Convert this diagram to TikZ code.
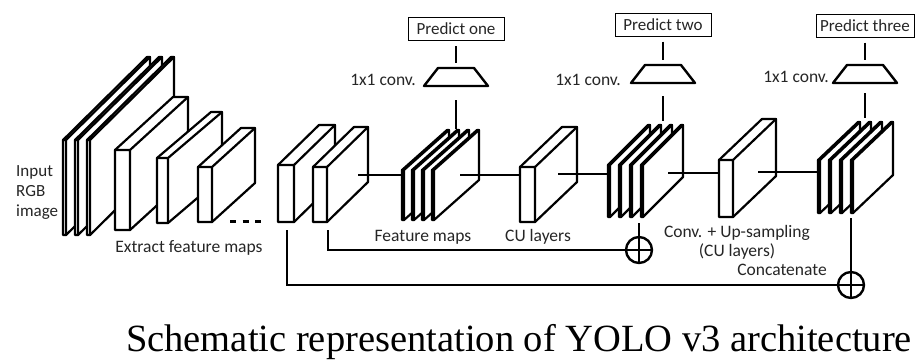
\documentclass[tikz,border=0pt]{standalone}
\usepackage{fontspec}
\setmainfont{Carlito}
\newfontfamily\capfont{Liberation Serif}

\tikzset{
  blkst/.style={draw=black, fill=white, line width=2.2pt, line join=round},
  blkln/.style={draw=black, line width=2.2pt, line join=round, line cap=round},
  lbl/.style={font=\fontsize{17.5}{19}\selectfont, text=black!85, inner sep=0pt},
  conn/.style={line width=2.2pt},
  predbox/.style={draw, line width=1pt, font=\fontsize{17}{19}\selectfont, text=black!85,
    inner sep=1pt, minimum width=96pt, minimum height=23pt},
  trapst/.style={draw, line width=2.4pt, line join=round},
  oplus/.style={circle, draw, line width=2.4pt, minimum size=26pt, inner sep=0pt,
    path picture={\draw[line width=2pt] (path picture bounding box.north) -- (path picture bounding box.south)
      (path picture bounding box.west) -- (path picture bounding box.east);}},
  dotsln/.style={line width=3pt, dash pattern=on 6pt off 6.5pt}
}

% block: name, x, y(top), w, h, dx, dy
\newcommand\blk[7]{%
  \path[blkst] ({#2},{#3}) -- ({#2+#6},{#3-#7}) -- ({#2+#4+#6},{#3-#7})
     -- ({#2+#4+#6},{#3+#5-#7}) -- ({#2+#4},{#3+#5}) -- ({#2},{#3+#5}) -- cycle;
  \draw[blkln] ({#2},{#3}) -- ({#2+#4},{#3}) -- ({#2+#4+#6},{#3-#7})
     ({#2+#4},{#3}) -- ({#2+#4},{#3+#5});
  \coordinate (#1) at ({#2},{#3});
}
% stack: name, x, y, w, h, dx, dy, n, gap
\newcommand\stk[9]{%
  \foreach \k in {1,...,#8}{%
    \blk{#1-\k}{#2+(\k-1)*#9}{#3}{#4}{#5}{#6}{#7}%
  }%
}
% trapezoid (1x1 conv): name, cx, cy ; top width 36, bottom 64, height 18
\newcommand\trapz[3]{%
  \draw[trapst] ({#2-18},{#3-9}) -- ({#2+18},{#3-9}) -- ({#2+32},{#3+9}) -- ({#2-32},{#3+9}) -- cycle;
  \coordinate (#1-n) at ({#2},{#3-9});
  \coordinate (#1-s) at ({#2},{#3+9});
}

\begin{document}
\begin{tikzpicture}[x=1pt,y=-1pt]
\fill[white] (0,0) rectangle (917,360);
\useasboundingbox (0,0) rectangle (917,360);

% backbone
\stk{inp}{63}{140}{3}{95}{84}{83}{3}{12}
\blk{b2}{115}{150}{15}{80}{58}{53}
\blk{b3}{157}{158}{11}{65}{54}{46}
\blk{b4}{198}{167}{14}{55}{43}{39}
\coordinate (dotsa) at (230,221);
\coordinate (dotsb) at (264,221);
\draw[dotsln] (dotsa) -- (dotsb);
\blk{b5}{278}{165}{16}{57}{41}{40}
\blk{b6}{313}{167}{14}{55}{41}{40}
\stk{fm1}{402}{170}{2}{50}{45}{40}{4}{10}
\blk{cu1}{520}{167}{15}{55}{42}{40}
\stk{fm2}{608}{165}{2}{52}{40}{40}{4}{11}
\blk{cu2}{719}{160}{14}{57}{43}{41}
\stk{fm3}{818}{160}{2}{53}{40}{38}{4}{11}

% connection points
\coordinate (b6o) at (358,175);  \coordinate (fm1i) at (402,175);
\coordinate (fm1o) at (460,175); \coordinate (cu1i) at (520,175);
\coordinate (cu1o) at (558,174); \coordinate (fm2i) at (608,174);
\coordinate (fm2o) at (668,173); \coordinate (cu2i) at (719,173);
\coordinate (cu2o) at (758,172); \coordinate (fm3i) at (818,172);
\coordinate (b5b) at (287,222);  \coordinate (b6b) at (328,222);
\coordinate (fm2b) at (639,217); \coordinate (fm3b) at (851,213);
\coordinate (fm1t) at (456,129); \coordinate (fm2t) at (663,121);
\coordinate (fm3t) at (865,118);

\draw[conn] (b6o) -- (fm1i);
\draw[conn] (fm1o) -- (cu1i);
\draw[conn] (cu1o) -- (fm2i);
\draw[conn] (fm2o) -- (cu2i);
\draw[conn] (cu2o) -- (fm3i);

% prediction heads
\node[predbox] (p1) at (456,29) {Predict one};
\node[predbox] (p2) at (663,24.5) {Predict two};
\node[predbox, minimum width=98pt] (p3) at (865,25.5) {Predict three};
\trapz{t1}{456}{77}
\trapz{t2}{663}{74}
\trapz{t3}{865}{74}
\draw[conn, shorten <=5pt, shorten >=5pt] (p1.south) -- (t1-n);
\draw[conn, shorten <=5pt, shorten >=5pt] (p2.south) -- (t2-n);
\draw[conn, shorten <=5pt, shorten >=5pt] (p3.south) -- (t3-n);
\draw[conn, shorten <=14pt] (t1-s) -- (fm1t);
\draw[conn, shorten <=13pt] (t2-s) -- (fm2t);
\draw[conn, shorten <=10pt] (t3-s) -- (fm3t);
\node[lbl, anchor=east] (c1) at (416,80) {1x1 conv.};
\node[lbl, anchor=east] (c2) at (621,80) {1x1 conv.};
\node[lbl, anchor=east] (c3) at (829,77) {1x1 conv.};

% skip connections
\node[oplus] (o1) at (639,250) {};
\node[oplus] (o2) at (851,285) {};
\draw[conn, shorten <=8pt] (b6b) |- (o1.west);
\draw[conn, shorten <=8pt] (b5b) |- (o2.west);
\draw[conn, shorten <=6pt] (fm2b) -- (o1.north);
\draw[conn, shorten <=5pt] (fm3b) -- (o2.north);

% labels
\node[lbl, anchor=west, align=left, font=\fontsize{17}{20}\selectfont] (inl) at (16,192) {Input\\RGB\\image};
\node[lbl] (ext) at (189,248) {Extract feature maps};
\node[lbl] (fml) at (423,237) {Feature maps};
\node[lbl] (cul) at (538,237) {CU layers};
\node[lbl, align=center] (cup) at (737,242) {Conv. + Up-sampling\\(CU layers)};
\node[lbl] (cat) at (782,270) {Concatenate};

% caption
\node[font=\capfont\fontsize{38.5}{40}\selectfont, anchor=base, inner sep=0pt] (cap) at (519,351)
  {Schematic representation of YOLO v3 architecture};
\end{tikzpicture}
\end{document}
